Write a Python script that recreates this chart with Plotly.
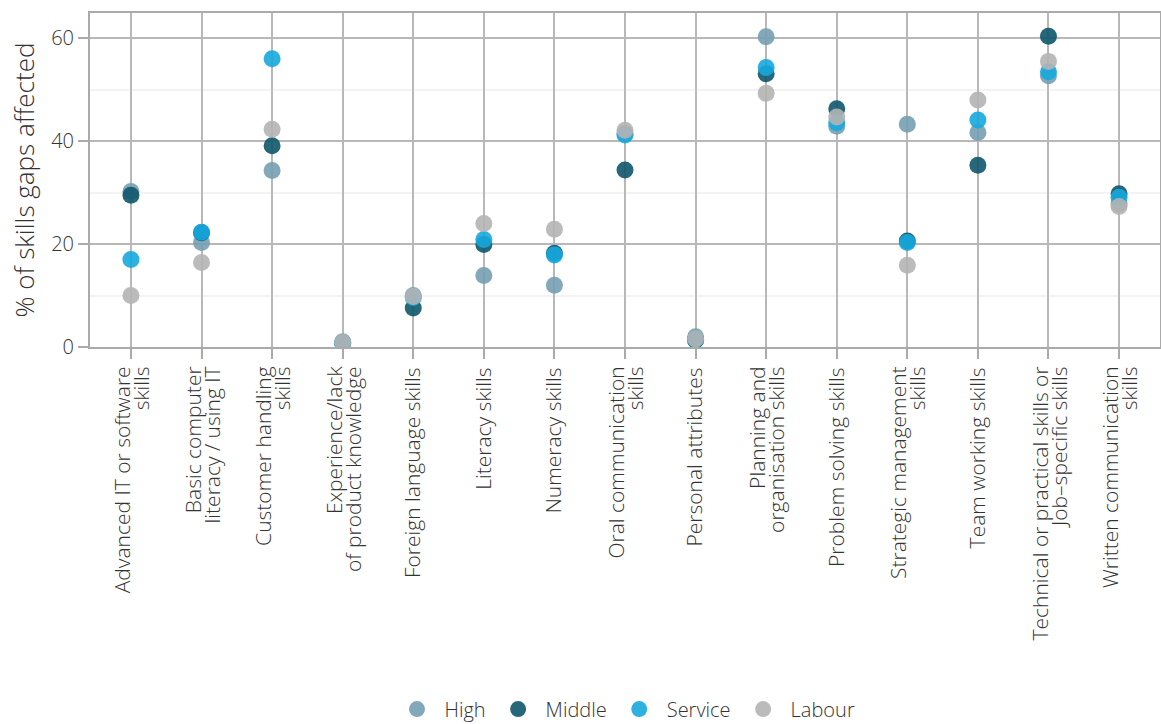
import plotly.graph_objects as go

# categories (x axis); <br> marks the second line of a label
skills = [
    "Advanced IT or software<br>skills",
    "Basic computer<br>literacy / using IT",
    "Customer handling<br>skills",
    "Experience/lack<br>of product knowledge",
    "Foreign language skills",
    "Literacy skills",
    "Numeracy skills",
    "Oral communication<br>skills",
    "Personal attributes",
    "Planning and<br>organisation skills",
    "Problem solving skills",
    "Strategic management<br>skills",
    "Team working skills",
    "Technical or practical skills or<br>Job\u2013specific skills",
    "Written communication<br>skills",
]

# % of skills gaps affected, by occupation group
high = [30.2, 20.3, 34.3, 1.0, 10.0, 13.9, 12.0, 41.5, 2.0, 60.3, 42.9, 43.3, 41.7, 52.7, 27.8]
middle = [29.5, 22.2, 39.1, 0.8, 7.6, 19.9, 18.2, 34.4, 1.3, 53.1, 46.3, 20.6, 35.3, 60.4, 29.8]
service = [17.0, 22.3, 56.0, 0.8, 9.6, 20.9, 17.9, 41.2, 1.5, 54.3, 43.6, 20.3, 44.1, 53.5, 29.1]
labour = [10.0, 16.4, 42.3, 0.9, 9.8, 24.0, 22.9, 42.1, 1.6, 49.3, 44.7, 15.9, 48.0, 55.5, 27.3]

series = [
    ("High", high, "#769fb3"),
    ("Middle", middle, "#0f566c"),
    ("Service", service, "#15a8de"),
    ("Labour", labour, "#b4b4b4"),
]

n = len(skills)
xs = list(range(n))
x_range = [-0.58, n - 1 + 0.58]

fig = go.Figure()
for name, vals, color in series:
    fig.add_trace(go.Scatter(
        x=xs, y=vals, name=name, mode="markers",
        marker=dict(size=17, color=color, opacity=0.9, line=dict(width=0)),
    ))

# two-line labels are split over two overlay axes so the line spacing stays tight
parts = [s.split("<br>") for s in skills]
single_text = [p[0] if len(p) == 1 else "" for p in parts]
line1_vals = [i - 0.11 for i, p in enumerate(parts) if len(p) == 2]
line1_text = [p[0] for p in parts if len(p) == 2]
line2_vals = [i + 0.16 for i, p in enumerate(parts) if len(p) == 2]
line2_text = [p[1] for p in parts if len(p) == 2]

for ax in ["x2", "x3"]:
    fig.add_trace(go.Scatter(x=[], y=[], xaxis=ax, yaxis="y", showlegend=False, hoverinfo="skip"))

font = dict(family="Open Sans", color="#333333", weight=300)
tickfont = dict(**font, size=21)

overlay = dict(
    overlaying="x", anchor="y", side="bottom", range=x_range, tickmode="array",
    tickangle=-90, showgrid=False, showline=False, zeroline=False,
    ticks="outside", ticklen=10, tickwidth=2, tickcolor="rgba(0,0,0,0)",
    tickfont=tickfont, automargin=False,
)

fig.update_layout(
    template="none",
    width=1161, height=724,
    margin=dict(l=90, r=1, t=13, b=377, pad=0, autoexpand=False),
    plot_bgcolor="white", paper_bgcolor="white",
    font=dict(**font, size=20),
    showlegend=True,
    legend=dict(
        orientation="h", x=0.5, xanchor="center", y=-1.084, yanchor="middle",
        font=dict(**font, size=20), itemsizing="trace", itemwidth=45,
        traceorder="normal",
    ),
    xaxis=dict(
        range=x_range, tickmode="array", tickvals=xs, ticktext=single_text, tickangle=-90,
        showgrid=True, gridcolor="#b8b8b8", gridwidth=1.5,
        showline=True, linecolor="#aaaaaa", linewidth=2, mirror=True,
        ticks="outside", ticklen=10, tickcolor="#aaaaaa", tickwidth=2,
        tickfont=tickfont, zeroline=False, automargin=False,
    ),
    xaxis2=dict(**overlay, tickvals=line1_vals, ticktext=line1_text),
    xaxis3=dict(**overlay, tickvals=line2_vals, ticktext=line2_text),
    yaxis=dict(
        range=[0, 64.9], tickvals=[0, 20, 40, 60],
        showgrid=True, gridcolor="#b8b8b8", gridwidth=1.5,
        minor=dict(dtick=10, showgrid=True, gridcolor="#f3f3f3", gridwidth=1.5, ticks=""),
        showline=True, linecolor="#aaaaaa", linewidth=2, mirror=True,
        ticks="outside", ticklen=10, tickcolor="#aaaaaa", tickwidth=2,
        tickfont=dict(**font, size=20), zeroline=False,
        title=dict(text="% of skills gaps affected", font=dict(**font, size=26), standoff=9),
        automargin=False,
    ),
)

# the page's default body margin would push the 1161x724 figure off the window
fig.write_html(
    "out.html",
    config={"displayModeBar": False},
    post_script="document.body.style.margin = '0';",
)
